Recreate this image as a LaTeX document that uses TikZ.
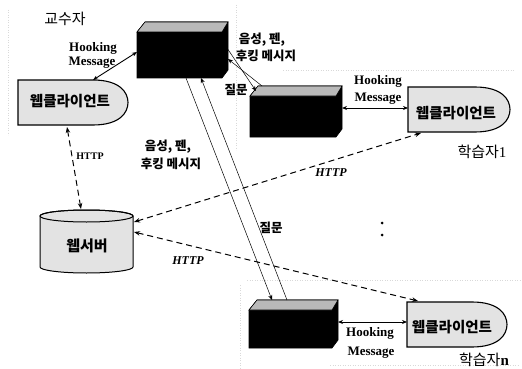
\documentclass[tikz,border=0pt]{standalone}
\usepackage{fontspec}
\setmainfont{Liberation Serif}
\newfontfamily\kr{Noto Sans CJK KR}
\usetikzlibrary{arrows.meta}
\newcommand\mkclient[4]{% x0, y0, y1, xr
  \filldraw[fill=gray!22,line width=1.1pt] (#1,#2) -- ({#4-35},#2) .. controls ({#4-8},#2) and (#4,{(#2+#3)/2-10}) .. (#4,{(#2+#3)/2}) .. controls (#4,{(#2+#3)/2+10}) and ({#4-8},#3) .. ({#4-35},#3) -- (#1,#3) -- cycle;}
\newcommand\mkbox[4]{% x0, ytop, x1, ybottom
  \filldraw[fill=black,line width=0.6pt] (#1,{#2+10}) -- ({#1+8},#2) -- (#3,#2) -- (#3,{#4-8}) -- ({#3-6},#4) -- (#1,#4) -- cycle;
  \filldraw[fill=gray!55,draw=black,line width=0.6pt] (#1,{#2+10}) -- ({#1+8},#2) -- (#3,#2) -- ({#3-6},{#2+10}) -- cycle;}
\begin{document}
\begin{tikzpicture}[x=1pt,y=-1pt,
  arr/.style={line width=0.9pt,{Stealth[length=5pt,width=4pt]}-{Stealth[length=5pt,width=4pt]}},
  httpline/.style={line width=1pt,dash pattern=on 6pt off 4pt,{Stealth[length=6pt,width=4.5pt]}-{Stealth[length=6pt,width=4.5pt]}},
  thinarr/.style={line width=0.5pt,-{Stealth[length=5pt,width=4pt]}},
  en/.style={font=\bfseries\fontsize{13}{13}\selectfont,inner sep=0pt},
  httplbl/.style={font=\bfseries\itshape\fontsize{12}{12}\selectfont,inner sep=0pt},
  krlbl/.style={font=\kr\bfseries\fontsize{12.5}{12.5}\selectfont,inner sep=0pt},
  krbig/.style={font=\kr\fontsize{15}{15}\selectfont,inner sep=0pt},
  cl/.style={font=\kr\bfseries\fontsize{14.5}{14.5}\selectfont,inner sep=0pt},
  region/.style={gray!30,line width=0.5pt,dotted}
]
\useasboundingbox (0,0) rectangle (522,369);
\fill[white] (0,0) rectangle (522,369);

% faint region borders
\draw[region] (8,10) -- (8,135);
\draw[region] (236,5) -- (236,150);
\draw[region] (283,70) -- (515,70);
\draw[region] (247,280) -- (520,280);
\draw[region] (240,285) -- (240,369);
\draw[region] (330,365) -- (518,365);

% shapes
\mkbox{137}{22}{228}{78}
\mkbox{250}{86}{342}{137}
\mkbox{249}{300}{338}{348}
\mkclient{18}{80}{125}{128}
\mkclient{408}{87}{132}{510}
\mkclient{407}{302}{347}{507}
% web server cylinder
\filldraw[fill=gray!22,line width=1pt] (40,216) -- (40,267) arc[start angle=180,end angle=0,x radius=46.5,y radius=6] -- (133,216) arc[start angle=0,end angle=-180,x radius=46.5,y radius=6] -- cycle;
\draw[line width=1pt] (86.5,216) ellipse[x radius=46.5,y radius=6];

% text nodes
\node[krbig] (teacher) at (65,19) {교수자};
\node[krbig] (s1) at (482,152) {학습자{\rmfamily 1}};
\node[krbig] (sn) at (484,360) {학습자{\rmfamily\bfseries n}};
\node[cl] (tcl) at (70,101) {웹클라이언트};
\node[cl] (s1cl) at (456,113) {웹클라이언트};
\node[cl] (sncl) at (452,327) {웹클라이언트};
\node[font=\kr\bfseries\fontsize{15}{15}\selectfont,inner sep=0pt] (server) at (87,246) {웹서버};

\node[en] (th1) at (93,48) {Hooking};
\node[en] (th2) at (92,63) {Message};
\node[en] (s1h1) at (378,81) {Hooking};
\node[en] (s1h2) at (378,99) {Message};
\node[en] (snh1) at (370,333) {Hooking};
\node[en] (snh2) at (371,353) {Message};

\node[font=\bfseries\fontsize{10}{10}\selectfont,inner sep=0pt] (http1) at (90,156) {HTTP};
\node[httplbl] (http2) at (331,173) {HTTP};
\node[httplbl] (http3) at (188,261) {HTTP};

\node[krlbl] (v1a) at (262,40) {음성, 펜,};
\node[krlbl] (v1b) at (266,56) {후킹 메시지};
\node[krlbl] (v2a) at (168,147) {음성, 펜,};
\node[krlbl] (v2b) at (171,164) {후킹 메시지};
\node[krlbl] (q1) at (236,90) {질문};
\node[krlbl] (q2) at (271,228) {질문};

\fill (382,223) circle (1.5);
\fill (382,235) circle (1.5);

% connection points
\coordinate (tcTop) at (93,80);
\coordinate (tbL) at (137,52);
\coordinate (tcBot) at (67,127);
\coordinate (svTop) at (81,209);
\coordinate (svR1) at (134,222);
\coordinate (svR2) at (134,232);
\coordinate (s1cB) at (421,133);
\coordinate (sncT) at (418,301);
\coordinate (s1bR) at (342,108);
\coordinate (s1cL) at (408,108);
\coordinate (snbR) at (338,322);
\coordinate (sncL) at (407,322);
\coordinate (tbR1) at (227,48);
\coordinate (s1bT1) at (256,91);
\coordinate (s1bT2) at (262,86);
\coordinate (tbR2) at (228,59);
\coordinate (tbB1) at (186,78);
\coordinate (tbB2) at (201,78);
\coordinate (snbT1) at (272,300);
\coordinate (snbT2) at (287,300);

% connectors
\draw[arr] (tcTop) -- (tbL);
\draw[arr] (s1bR) -- (s1cL);
\draw[arr] (snbR) -- (sncL);
\draw[httpline] (tcBot) -- (svTop);
\draw[httpline] (svR1) -- (s1cB);
\draw[httpline] (svR2) -- (sncT);
\draw[thinarr] (tbR1) -- (s1bT1);
\draw[thinarr] (s1bT2) -- (tbR2);
\draw[thinarr] (tbB1) -- (snbT1);
\draw[thinarr] (snbT2) -- (tbB2);
\end{tikzpicture}
\end{document}
